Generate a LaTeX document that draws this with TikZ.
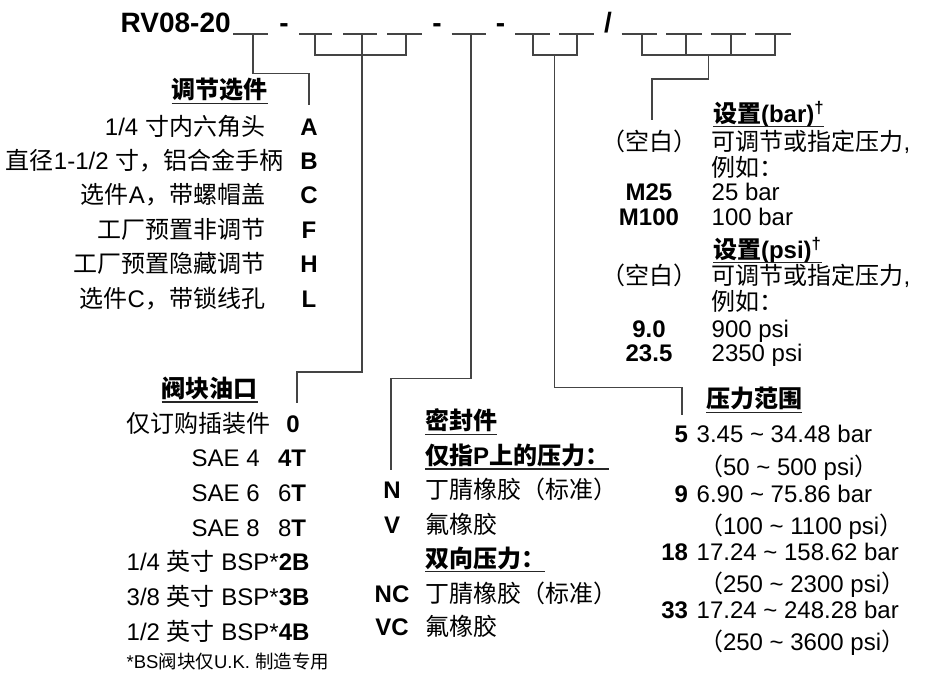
\documentclass[tikz,border=0pt]{standalone}
\usepackage{fontspec}
\setmainfont{Liberation Sans}
\newfontfamily\cjk{Noto Sans CJK SC}
\newcommand\zhc[1]{{\cjk #1}}
\definecolor{lineg}{HTML}{444444}
\tikzset{
  conn/.style={draw=lineg, line width=1.6pt},
  uscore/.style={draw=lineg, line width=1.5pt},
  uline/.style={draw=black!85, line width=1.4pt},
  txt/.style={inner sep=0pt, outer sep=0pt, font=\fontsize{24}{24}\selectfont},
  codeb/.style={txt, font=\fontsize{24}{24}\selectfont\bfseries},
  headb/.style={txt, font=\fontsize{24}{24}\selectfont\bfseries},
  smalltxt/.style={txt, font=\fontsize{18.5}{18.5}\selectfont},
  titletxt/.style={txt, font=\fontsize{28}{28}\selectfont\bfseries},
}
\begin{document}
\begin{tikzpicture}[x=1pt,y=-1pt]
\useasboundingbox (0,0) rectangle (929,673);

% ---------- title line ----------
\node[titletxt, anchor=base west] (tRV) at (120.7,32.3) {RV08-20};
\node[titletxt, anchor=base] (dash1) at (284,32.3) {-};
\node[titletxt, anchor=base] (dash2) at (437,32.3) {-};
\node[titletxt, anchor=base] (dash3) at (500.5,32.3) {-};
\node[titletxt, anchor=base] (slash) at (608,32.3) {/};
\foreach \a/\b [count=\i] in {233.3/268.3, 299/332, 343/377, 387/422, 451.7/486, 515/550, 559/594, 621.7/656.7, 666/701.7, 710.7/746, 755/790.7} {
  \coordinate (us\i) at (\a,34); \coordinate (ue\i) at (\b,34);
  \draw[uscore] (us\i) -- (ue\i);
}

% ---------- connector coordinates ----------
\coordinate (k1) at (252.7,34);
\coordinate (k1a) at (252.7,73.5);
\coordinate (k1b) at (309,73.5);
\coordinate (e1) at (309,105);

\coordinate (k2) at (315,34);   \coordinate (k2b) at (315,55);
\coordinate (k3) at (361.7,34); \coordinate (k3a) at (361.7,371.7);
\coordinate (k3b) at (296.7,371.7); \coordinate (e2) at (296.7,403.3);
\coordinate (k4) at (406,34);   \coordinate (k4b) at (406,55);

\coordinate (k5) at (470.7,34); \coordinate (k5a) at (470.7,378.3);
\coordinate (k5b) at (391,378.3); \coordinate (e3) at (391,470);

\coordinate (k6) at (532.7,34); \coordinate (k6b) at (532.7,55);
\coordinate (k7) at (576.7,34); \coordinate (k7b) at (576.7,55);
\coordinate (m67) at (554.3,55); \coordinate (m67a) at (554.3,387.3);
\coordinate (m67b) at (681.7,387.3); \coordinate (e4) at (681.7,415);

\coordinate (k8) at (641.7,34);  \coordinate (k8b) at (641.7,55);
\coordinate (k9) at (686,34);    \coordinate (k9b) at (686,55);
\coordinate (k10) at (731,34);   \coordinate (k10b) at (731,55);
\coordinate (k11) at (775,34);   \coordinate (k11b) at (775,55);
\coordinate (m811) at (708.3,55); \coordinate (m811a) at (708.3,79);
\coordinate (m811b) at (651.7,79); \coordinate (e5) at (651.7,120);

\draw[conn] (k1) -- (k1a) -- (k1b) -- (e1);
\draw[conn] (k2) -- (k2b) -- (k4b) -- (k4);
\draw[conn] (k3) -- (k3a) -- (k3b) -- (e2);
\draw[conn] (k5) -- (k5a) -- (k5b) -- (e3);
\draw[conn] (k6) -- (k6b) -- (k7b) -- (k7);
\draw[conn] (m67) -- (m67a) -- (m67b) -- (e4);
\draw[conn] (k8) -- (k8b) -- (k11b) -- (k11);
\draw[conn] (k9) -- (k9b);
\draw[conn] (k10) -- (k10b);
\draw[conn] (m811) -- (m811a) -- (m811b) -- (e5);

% ---------- adjustment options ----------
\node[headb, anchor=base west] (hAdj) at (171.7,98.5) {\zhc{调节选件}};
\draw[uline] ([yshift=-4.8pt]hAdj.base west) -- ([yshift=-4.8pt]hAdj.base east);
\node[txt, anchor=base east] (dA) at (265,135) {1/4 \zhc{寸内六角头}};
\node[codeb, anchor=base] (cA) at (309,135) {A};
\node[txt, anchor=base east] (dB) at (283.3,169.4) {\zhc{直径}1-1/2 \zhc{寸，铝合金手柄}};
\node[codeb, anchor=base] (cB) at (309,169.4) {B};
\node[txt, anchor=base east] (dC) at (265,203.8) {\zhc{选件}A\zhc{，带螺帽盖}};
\node[codeb, anchor=base] (cC) at (309,203.8) {C};
\node[txt, anchor=base east] (dF) at (265,238.2) {\zhc{工厂预置非调节}};
\node[codeb, anchor=base] (cF) at (309,238.2) {F};
\node[txt, anchor=base east] (dH) at (265,272.6) {\zhc{工厂预置隐藏调节}};
\node[codeb, anchor=base] (cH) at (309,272.6) {H};
\node[txt, anchor=base east] (dL) at (265,307) {\zhc{选件}C\zhc{，带锁线孔}};
\node[codeb, anchor=base] (cL) at (309,307) {L};

% ---------- ports ----------
\node[headb, anchor=base west] (hPort) at (161.7,397) {\zhc{阀块油口}};
\draw[uline] ([yshift=-4.8pt]hPort.base west) -- ([yshift=-4.8pt]hPort.base east);
\node[txt, anchor=base west] (d0) at (126.7,432) {\zhc{仅订购插装件}};
\node[codeb, anchor=base] (c0) at (293,432) {0};
\node[txt, anchor=base west] (d4T) at (191.7,466.7) {SAE 4};
\node[codeb, anchor=base west] (c4T) at (278,466.7) {4T};
\node[txt, anchor=base west] (d6T) at (191.7,501.4) {SAE 6};
\node[txt, anchor=base west] (c6T) at (278,501.4) {6\textbf{T}};
\node[txt, anchor=base west] (d8T) at (191.7,536.1) {SAE 8};
\node[txt, anchor=base west] (c8T) at (278,536.1) {8\textbf{T}};
\node[txt, anchor=base west] (d2B) at (126.7,570.8) {1/4 \zhc{英寸} BSP*\textbf{2B}};
\node[txt, anchor=base west] (d3B) at (126.7,605.5) {3/8 \zhc{英寸} BSP*\textbf{3B}};
\node[txt, anchor=base west] (d4B) at (126.7,640.2) {1/2 \zhc{英寸} BSP*\textbf{4B}};
\node[smalltxt, anchor=base west] (foot) at (126.7,668) {*BS\zhc{阀块仅}U.K. \zhc{制造专用}};

% ---------- seals ----------
\node[headb, anchor=base west] (hSeal) at (425,429.8) {\zhc{密封件}};
\draw[uline] ([yshift=-4.5pt]hSeal.base west) -- ([yshift=-4.5pt]hSeal.base east);
\node[headb, anchor=base west] (hP) at (425,464.5) {\zhc{仅指}P\zhc{上的压力：}};
\draw[uline] ([yshift=-4.5pt]hP.base west) -- ([yshift=-4.5pt]hP.base east);
\node[codeb, anchor=base] (cN) at (392,498.5) {N};
\node[txt, anchor=base west] (dN) at (425,498.5) {\zhc{丁腈橡胶（标准）}};
\node[codeb, anchor=base] (cV) at (392,533.5) {V};
\node[txt, anchor=base west] (dV) at (425,533.5) {\zhc{氟橡胶}};
\node[headb, anchor=base west] (hBi) at (425,567.2) {\zhc{双向压力：}};
\draw[uline] ([yshift=-4.5pt]hBi.base west) -- ([yshift=-4.5pt]hBi.base east);
\node[codeb, anchor=base] (cNC) at (392,602) {NC};
\node[txt, anchor=base west] (dNC) at (425,602) {\zhc{丁腈橡胶（标准）}};
\node[codeb, anchor=base] (cVC) at (392,635) {VC};
\node[txt, anchor=base west] (dVC) at (425,635) {\zhc{氟橡胶}};

% ---------- settings ----------
\node[headb, anchor=base west] (hBar) at (713,122.2) {\zhc{设置}(bar)\textsuperscript{†}};
\draw[uline] ([yshift=-4.5pt]hBar.base west) -- ([yshift=-4.5pt]hBar.base east);
\node[txt, anchor=base] (cBl1) at (649,150.6) {\zhc{（空白）}};
\node[txt, anchor=base west] (dBl1) at (711.7,150.6) {\zhc{可调节或指定压力},};
\node[txt, anchor=base west] (dEg1) at (711.7,176.6) {\zhc{例如：}};
\node[codeb, anchor=base] (cM25) at (649,200) {M25};
\node[txt, anchor=base west] (dM25) at (711.7,200) {25 bar};
\node[codeb, anchor=base] (cM100) at (649,225) {M100};
\node[txt, anchor=base west] (dM100) at (711.7,225) {100 bar};
\node[headb, anchor=base west] (hPsi) at (713,258.2) {\zhc{设置}(psi)\textsuperscript{†}};
\draw[uline] ([yshift=-4.5pt]hPsi.base west) -- ([yshift=-4.5pt]hPsi.base east);
\node[txt, anchor=base] (cBl2) at (649,284) {\zhc{（空白）}};
\node[txt, anchor=base west] (dBl2) at (711.7,284) {\zhc{可调节或指定压力},};
\node[txt, anchor=base west] (dEg2) at (711.7,310.6) {\zhc{例如：}};
\node[codeb, anchor=base] (c90) at (649,337.6) {9.0};
\node[txt, anchor=base west] (d90) at (711.7,337.6) {900 psi};
\node[codeb, anchor=base] (c235) at (649,361) {23.5};
\node[txt, anchor=base west] (d235) at (711.7,361) {2350 psi};

% ---------- pressure range ----------
\node[headb, anchor=base west] (hRange) at (706,407.8) {\zhc{压力范围}};
\draw[uline] ([yshift=-4.5pt]hRange.base west) -- ([yshift=-4.5pt]hRange.base east);
\node[codeb, anchor=base east] (c5) at (688,442.3) {5};
\node[txt, anchor=base west] (r5) at (696.7,442.3) {3.45 \textasciitilde{} 34.48 bar};
\node[txt, anchor=base west] (p5) at (699,475.6) {\zhc{（}50 \textasciitilde{} 500 psi\zhc{）}};
\node[codeb, anchor=base east] (c9) at (688,502.3) {9};
\node[txt, anchor=base west] (r9) at (696.7,502.3) {6.90 \textasciitilde{} 75.86 bar};
\node[txt, anchor=base west] (p9) at (699,534) {\zhc{（}100 \textasciitilde{} 1100 psi\zhc{）}};
\node[codeb, anchor=base east] (c18) at (688,560) {18};
\node[txt, anchor=base west] (r18) at (696.7,560) {17.24 \textasciitilde{} 158.62 bar};
\node[txt, anchor=base west] (p18) at (699,592.3) {\zhc{（}250 \textasciitilde{} 2300 psi\zhc{）}};
\node[codeb, anchor=base east] (c33) at (688,618.3) {33};
\node[txt, anchor=base west] (r33) at (696.7,618.3) {17.24 \textasciitilde{} 248.28 bar};
\node[txt, anchor=base west] (p33) at (699,650.6) {\zhc{（}250 \textasciitilde{} 3600 psi\zhc{）}};
\end{tikzpicture}
\end{document}
